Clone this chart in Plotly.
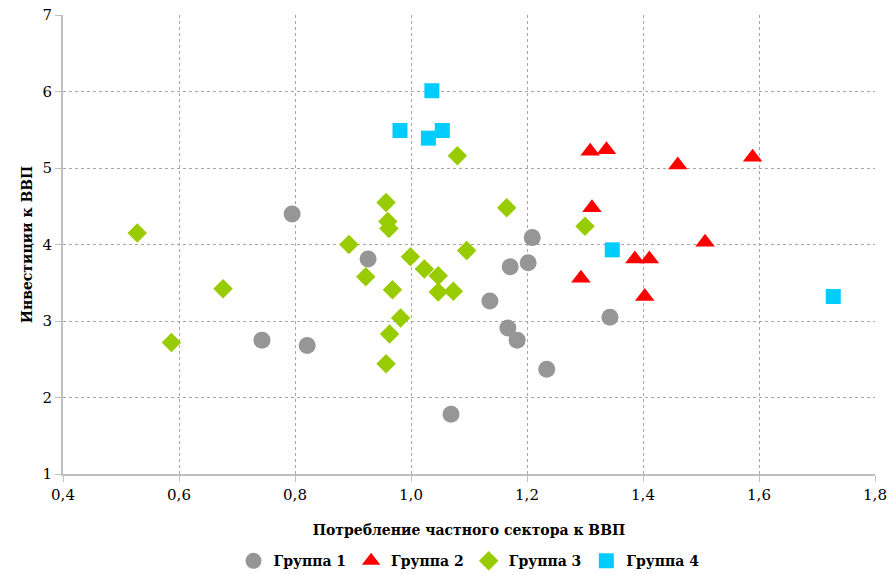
import plotly.graph_objects as go

# Group 1
g1_x = [0.795, 0.926, 0.743, 0.821, 1.069, 1.136, 1.167, 1.183, 1.171, 1.202, 1.209, 1.234, 1.343]
g1_y = [4.40, 3.81, 2.75, 2.68, 1.78, 3.26, 2.91, 2.75, 3.71, 3.76, 4.09, 2.37, 3.05]
# Group 2
g2_x = [1.309, 1.337, 1.460, 1.589, 1.312, 1.507, 1.386, 1.411, 1.293, 1.403]
g2_y = [5.22, 5.24, 5.04, 5.14, 4.48, 4.03, 3.81, 3.81, 3.56, 3.32]
# Group 3
g3_x = [0.528, 0.676, 0.587, 0.893, 0.957, 0.960, 0.962, 0.999, 0.922, 1.023, 1.047,
        0.968, 1.047, 1.073, 0.982, 0.963, 0.957, 1.080, 1.165, 1.300, 1.096]
g3_y = [4.15, 3.42, 2.72, 4.00, 4.55, 4.30, 4.21, 3.84, 3.58, 3.68, 3.59,
        3.41, 3.38, 3.39, 3.04, 2.83, 2.44, 5.16, 4.48, 4.24, 3.92]
# Group 4
g4_x = [1.036, 0.981, 1.030, 1.054, 1.347, 1.728]
g4_y = [6.01, 5.49, 5.39, 5.49, 3.93, 3.32]

names = ["Группа 1", "Группа 2", "Группа 3", "Группа 4"]
colors = ["#969696", "#ff0000", "#99cc00", "#00ccff"]
symbols = ["circle", "triangle-up", "diamond", "square"]
sizes = [17, 17, 15, 15]

fig = go.Figure()
for xs, ys, n, c, s, sz in zip([g1_x, g2_x, g3_x, g4_x], [g1_y, g2_y, g3_y, g4_y],
                               names, colors, symbols, sizes):
    fig.add_trace(go.Scatter(x=xs, y=ys, mode="markers", name=n,
                             marker=dict(color=c, symbol=s, size=sz, line=dict(width=0))))

font_family = "DejaVu Serif"
fig.update_layout(
    width=890, height=575,
    margin=dict(l=63, r=15, t=15, b=101, autoexpand=False),
    plot_bgcolor="white", paper_bgcolor="white",
    separators=", ",
    font=dict(family=font_family, size=15, color="#000000"),
    showlegend=True,
    legend=dict(orientation="h", x=0.5, xanchor="center", y=-0.19, yanchor="middle",
                font=dict(family=font_family, size=14, color="#000000", weight="bold"),
                itemwidth=30, tracegroupgap=0),
)
fig.update_xaxes(range=[0.4, 1.8], dtick=0.2, tick0=0.4, tickformat=".1f",
                 showgrid=True, gridcolor="#a6a6a6", griddash="dot", gridwidth=1,
                 showline=True, linecolor="#bfbfbf", linewidth=2,
                 ticks="outside", ticklen=6, tickcolor="#bfbfbf", tickwidth=1,
                 zeroline=False, automargin=False, ticklabeloverflow="allow",
                 tickfont=dict(family=font_family, size=15),
                 title=dict(text="<b>Потребление частного сектора к ВВП</b>",
                            font=dict(family=font_family, size=14), standoff=22))
fig.update_yaxes(range=[1, 7], dtick=1,
                 showgrid=True, gridcolor="#a6a6a6", griddash="dot", gridwidth=1,
                 showline=True, linecolor="#bfbfbf", linewidth=2,
                 ticks="outside", ticklen=6, tickcolor="#bfbfbf", tickwidth=1,
                 zeroline=False, automargin=False, ticklabeloverflow="allow",
                 tickfont=dict(family=font_family, size=15),
                 title=dict(text="<b>Инвестиции к ВВП</b>",
                            font=dict(family=font_family, size=14), standoff=7))

fig.write_html("out.html", config={"displayModeBar": False},
               post_script="document.body.style.margin='0';document.body.style.padding='0';")
